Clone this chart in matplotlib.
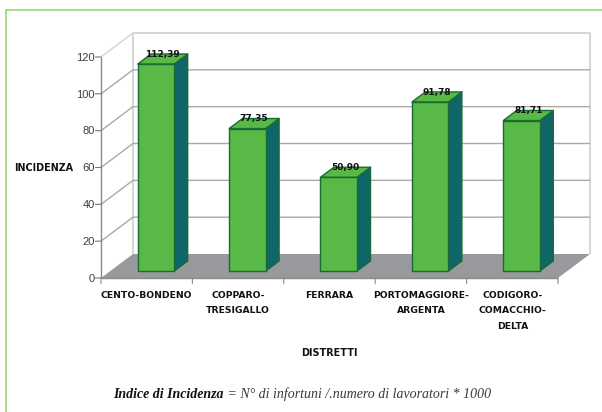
import matplotlib
matplotlib.use("Agg")
import matplotlib.pyplot as plt
from matplotlib.patches import Polygon

categories = ["CENTO-BONDENO", "COPPARO-\nTRESIGALLO", "FERRARA",
              "PORTOMAGGIORE-\nARGENTA", "CODIGORO-\nCOMACCHIO-\nDELTA"]
values = [112.39, 77.35, 50.90, 91.78, 81.71]
value_labels = ["112,39", "77,35", "50,90", "91,78", "81,71"]
y_ticks = [0, 20, 40, 60, 80, 100, 120]
y_label = "INCIDENZA"
x_label = "DISTRETTI"
caption_bold = "Indice di Incidenza"
caption_rest = " = N° di infortuni /.numero di lavoratori * 1000"

W, H = 602, 412
DX = 0.350   # category units per full depth
DY = 13.03   # value units per full depth
BAR_W = 0.40
D0, D1 = 0.29, 0.71
LABEL = ["DejaVu Sans"]


def p(x, y, d=0.0):
    return (x + d * DX, y + d * DY)


fig = plt.figure(figsize=(W / 100, H / 100), dpi=100, facecolor="white")
ax = fig.add_axes([101 / W, 1 - 278 / H, 457 / W, 221 / H])
ax.set_xlim(0, len(values))
ax.set_ylim(0, 120)
ax.patch.set_visible(False)
for s in ax.spines.values():
    s.set_visible(False)
ax.set_xticks([])
ax.set_yticks([])

grid_c = "#a9a9a9"
wall_c = "#d2d2d2"
n = len(values)
top = y_ticks[-1]
kw = dict(clip_on=False, solid_capstyle="butt")

# floor
ax.add_patch(Polygon([p(0, 0), p(n, 0), p(n, 0, 1), p(0, 0, 1)], closed=True,
                     fc="#97999c", ec="none", clip_on=False, zorder=1))
# walls
ax.plot(*zip(p(0, 0, 1), p(0, top, 1), p(n, top, 1), p(n, 0, 1)), color=wall_c, lw=1.3, zorder=1, **kw)
ax.plot(*zip(p(0, top), p(0, top, 1)), color=wall_c, lw=1.0, zorder=1, **kw)
# grid
for t in y_ticks[1:-1]:
    ax.plot(*zip(p(0, t), p(0, t, 1), p(n, t, 1)), color=grid_c, lw=1.0, zorder=1, **kw)
# front axes and ticks
ax.plot([0, 0], [0, top], color="#8a8a8a", lw=1.0, zorder=2, **kw)
ax.plot([0, n], [0, 0], color="#8a8a8a", lw=1.0, zorder=2, **kw)
for t in y_ticks:
    ax.annotate("", xy=(0, t), xytext=(-4, 0), textcoords="offset points",
                arrowprops=dict(arrowstyle="-", color="#777777", lw=0.8, shrinkA=0, shrinkB=0))
    ax.annotate(str(t), xy=(0, t), xytext=(-4.5, -0.5), textcoords="offset points",
                ha="right", va="center", fontsize=8.0, color="#3f3f3f", family="Liberation Sans")
for i in range(n + 1):
    ax.annotate("", xy=(i, 0), xytext=(0, -4), textcoords="offset points",
                arrowprops=dict(arrowstyle="-", color="#8a8a8a", lw=0.8, shrinkA=0, shrinkB=0))

# bars
front_c, side_c, edge_c = "#58b947", "#0f6669", "#1c6a33"
for i, (v, lab, vl) in enumerate(zip(values, categories, value_labels)):
    l, r = i + 0.5 - BAR_W / 2, i + 0.5 + BAR_W / 2
    pk = dict(closed=True, ec=edge_c, lw=1.0, clip_on=False, zorder=3, joinstyle="round")
    ax.add_patch(Polygon([p(r, 0, D0), p(r, 0, D1), p(r, v, D1), p(r, v, D0)], fc=side_c, **pk))
    ax.add_patch(Polygon([p(l, v, D0), p(r, v, D0), p(r, v, D1), p(l, v, D1)], fc=front_c, **pk))
    ax.add_patch(Polygon([p(l, 0, D0), p(r, 0, D0), p(r, v, D0), p(l, v, D0)], fc=front_c, **pk))
    tx, ty = p(i + 0.5, v, 0.5 * (D0 + D1))
    ax.annotate(vl, xy=(tx, ty), xytext=(0, 3.5), textcoords="offset points", ha="center", va="center",
                fontsize=6.5, color="#111111", family=LABEL, fontweight="bold", zorder=5)
    ax.annotate(lab, xy=(i + 0.5, 0), xytext=(0, -9), textcoords="offset points", ha="center", va="top",
                fontsize=6.7, color="#111111", family=LABEL, fontweight="bold", linespacing=1.95)

# axis titles
fig.text(43.5 / W, 1 - 168 / H, y_label, ha="center", va="center", fontsize=6.9, color="#111111",
         family=LABEL, fontweight="bold")
fig.text(329 / W, 1 - 353 / H, x_label, ha="center", va="center", fontsize=6.9, color="#111111",
         family=LABEL, fontweight="bold")

# caption
c1 = fig.text(113 / W, 1 - 398 / H, caption_bold, ha="left", va="baseline", fontsize=10, color="#111111",
              family="Liberation Serif", style="italic", fontweight="bold")
fig.canvas.draw()
ax.annotate(caption_rest, xy=(1, 0), xycoords=c1, ha="left", va="bottom", annotation_clip=False,
            fontsize=10, color="#3a3a3a", family="Liberation Serif", style="italic")

# page frame
fig.add_artist(plt.Line2D([6 / W, 6 / W, 1], [0, 1 - 10 / H, 1 - 10 / H], color="#8fdc7a", lw=1.2,
                          transform=fig.transFigure))

fig.savefig("out.png", dpi=100, facecolor="white")
